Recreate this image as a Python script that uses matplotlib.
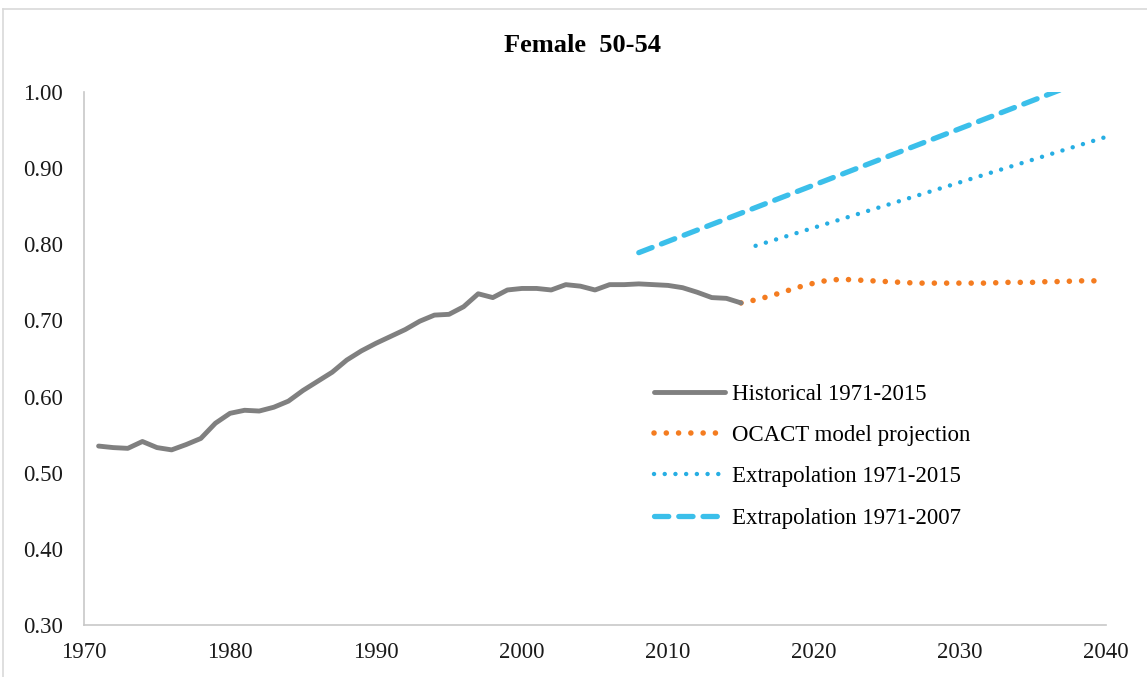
import matplotlib.pyplot as plt
from matplotlib.lines import Line2D

# historical labour force participation, female 50-54
hist_years = list(range(1971, 2016))
hist_values = [0.535, 0.533, 0.532, 0.541, 0.533, 0.530, 0.537, 0.545, 0.565, 0.578,
               0.582, 0.581, 0.586, 0.594, 0.608, 0.620, 0.632, 0.648, 0.660, 0.670,
               0.679, 0.688, 0.699, 0.707, 0.708, 0.718, 0.735, 0.730, 0.740, 0.742,
               0.742, 0.740, 0.747, 0.745, 0.740, 0.747, 0.747, 0.748, 0.747, 0.746,
               0.743, 0.737, 0.730, 0.729, 0.723]

# OCACT model projection
proj_years = list(range(2015, 2041))
proj_values = [0.723, 0.727, 0.732, 0.738, 0.744, 0.749, 0.753, 0.754, 0.753, 0.752,
               0.751, 0.750, 0.749, 0.749, 0.749, 0.749, 0.749, 0.749, 0.750, 0.750,
               0.750, 0.751, 0.751, 0.752, 0.752, 0.752]

# linear trend extrapolations (straight lines, end points only)
ext15_years = [2016, 2040]
ext15_values = [0.798, 0.941]
ext07_years = [2008, 2040]
ext07_values = [0.789, 1.026]

x_ticks = [1970, 1980, 1990, 2000, 2010, 2020, 2030, 2040]
y_ticks = [0.30, 0.40, 0.50, 0.60, 0.70, 0.80, 0.90, 1.00]

plt.rcParams['font.family'] = ['Liberation Serif', 'DejaVu Serif']

fig = plt.figure(figsize=(11.47, 6.77), dpi=100)
ax = fig.add_axes([84 / 1147, 52 / 677, 1022 / 1147, 533 / 677])

ax.plot(hist_years, hist_values, color='#808080', lw=3.5,
        solid_capstyle='round', label='Historical 1971-2015', zorder=3)
ax.plot(proj_years, proj_values, color='#f47c20', lw=4.0,
        linestyle=(0, (0.01, 2.2)), dash_capstyle='round',
        label='OCACT model projection', zorder=2)
ax.plot(ext15_years, ext15_values, color='#27aee3', lw=3.2,
        linestyle=(0, (0.01, 2.4)), dash_capstyle='round',
        label='Extrapolation 1971-2015', zorder=2)
ax.plot(ext07_years, ext07_values, color='#3bbfea', lw=3.8,
        linestyle=(0, (2.7, 1.9)), dash_capstyle='round',
        label='Extrapolation 1971-2007', zorder=2)

ax.set_xlim(1970, 2040)
ax.set_ylim(0.30, 1.00)
ax.set_xticks(x_ticks)
ax.set_yticks(y_ticks)
ax.set_yticklabels([f"{v:.2f}" for v in y_ticks])
ax.tick_params(axis='both', length=0, labelsize=16.5, colors='#1a1a1a')
ax.tick_params(axis='y', pad=15)
ax.tick_params(axis='x', pad=12)

for side in ['top', 'right']:
    ax.spines[side].set_visible(False)
for side in ['left', 'bottom']:
    ax.spines[side].set_color('#c8c8c8')
    ax.spines[side].set_linewidth(1.2)

fig.text(582 / 1147, 1 - 45 / 677, 'Female  50-54', ha='center', va='center',
         fontsize=19, fontweight='bold')

leg = fig.legend(loc='upper left', bbox_to_anchor=(654 / 1147, 1 - 384 / 677),
                 frameon=False, fontsize=16.5, handlelength=3.1,
                 handletextpad=0.3, labelspacing=0.88, borderpad=0,
                 borderaxespad=0)

# outer chart frame (only top and left edges visible in the crop)
fig.add_artist(Line2D([3 / 1147, 3 / 1147], [0, 1 - 9 / 677],
                      transform=fig.transFigure, color='#d9d9d9', lw=1.2))
fig.add_artist(Line2D([3 / 1147, 1], [1 - 9 / 677, 1 - 9 / 677],
                      transform=fig.transFigure, color='#d9d9d9', lw=1.2))

fig.savefig('out.png', dpi=100)
